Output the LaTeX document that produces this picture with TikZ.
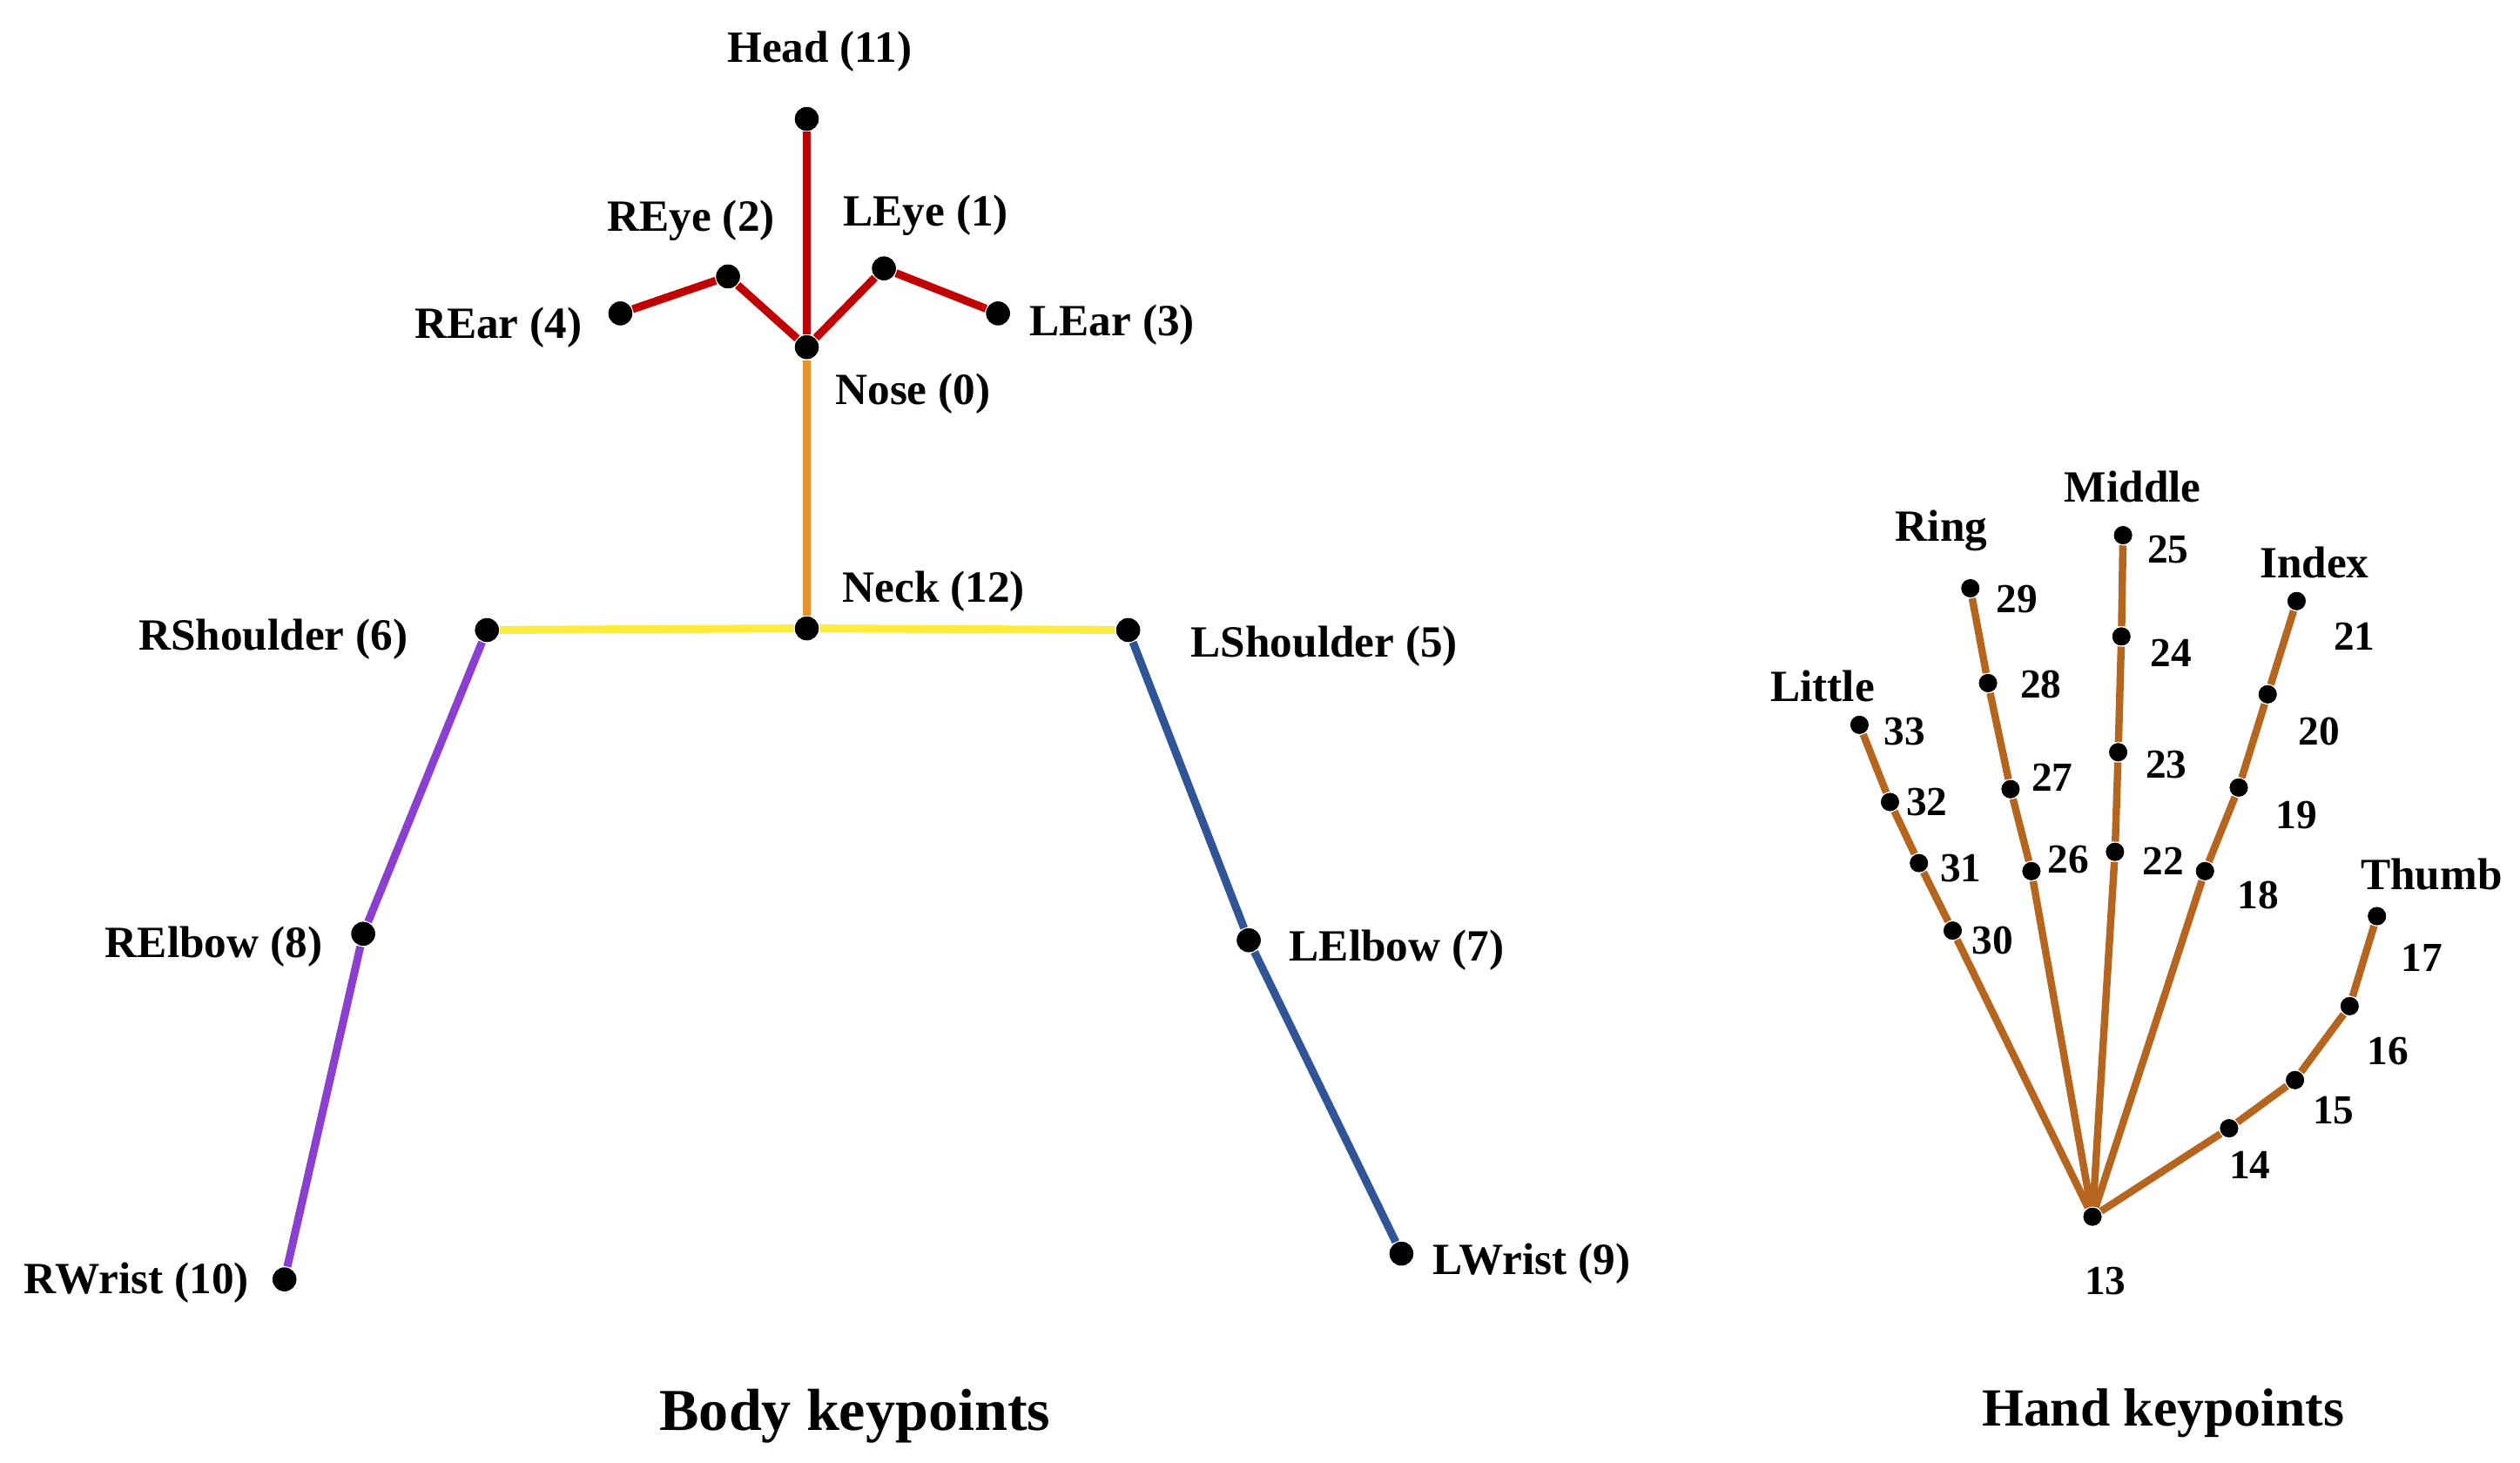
\documentclass[tikz,border=0pt]{standalone}
\usepackage{fontspec}
\setmainfont{Liberation Serif}
\usetikzlibrary{positioning}
\definecolor{cred}{HTML}{C00000}
\definecolor{corange}{HTML}{E8902A}
\definecolor{cyellow}{HTML}{FFEB3B}
\definecolor{cpurple}{HTML}{8B3FD0}
\definecolor{cblue}{HTML}{2F5597}
\definecolor{cbrown}{HTML}{B5651D}
\tikzset{
    kp/.style={circle, fill=black, inner sep=0pt, minimum size=4.2pt},
    hkp/.style={circle, fill=black, inner sep=0pt, minimum size=3.2pt},
    lbl/.style={font=\fontsize{7.9}{9}\selectfont\bfseries, inner sep=0pt},
    hlbl/.style={font=\fontsize{7.3}{9}\selectfont\bfseries, inner sep=0pt},
    bone/.style={line width=1.4pt},
    hbone/.style={line width=1.3pt, draw=cbrown}
}
\begin{document}
\begin{tikzpicture}[x=0.01cm, y=-0.01cm]
	\useasboundingbox (0,0) rectangle (1568,910);
	
	% body keypoints
	\node[kp] (head) at (502,74) {};
	\node[kp] (nose) at (502,216) {};
	\node[kp] (reye) at (453,172) {};
	\node[kp] (leye) at (550,167) {};
	\node[kp] (rear) at (386,195) {};
	\node[kp] (lear) at (621,195) {};
	\node[kp] (neck) at (502,391) {};
	\node[kp] (rsho) at (303,392) {};
	\node[kp] (lsho) at (702,392) {};
	\node[kp] (relb) at (226,581) {};
	\node[kp] (lelb) at (777,585) {};
	\node[kp] (rwri) at (177,796) {};
	\node[kp] (lwri) at (872,780) {};
	
	\draw[bone, cred] (head) -- (nose);
	\draw[bone, cred] (nose) -- (reye) -- (rear);
	\draw[bone, cred] (nose) -- (leye) -- (lear);
	\draw[bone, corange] (nose) -- (neck);
	\draw[bone, cyellow] (rsho) -- (neck) -- (lsho);
	\draw[bone, cpurple] (rsho) -- (relb) -- (rwri);
	\draw[bone, cblue] (lsho) -- (lelb) -- (lwri);
	\foreach \k in {head,nose,reye,leye,rear,lear,neck,rsho,lsho,relb,lelb,rwri,lwri}
		\node[kp] at (\k) {};
	
	\node[lbl] at (510,32) {Head (11)};
	\node[lbl] at (430,137) {REye (2)};
	\node[lbl] at (576,134) {LEye (1)};
	\node[lbl] at (310,204) {REar (4)};
	\node[lbl] at (692,202) {LEar (3)};
	\node[lbl] at (568,245) {Nose (0)};
	\node[lbl] at (581,368) {Neck (12)};
	\node[lbl] at (170,398) {RShoulder (6)};
	\node[lbl] at (824,402) {LShoulder (5)};
	\node[lbl] at (133,589) {RElbow (8)};
	\node[lbl] at (869,591) {LElbow (7)};
	\node[lbl] at (85,798) {RWrist (10)};
	\node[lbl] at (953,786) {LWrist (9)};
	\node[font=\fontsize{10.5}{12}\selectfont\bfseries] at (532,881) {Body keypoints};
	
	% hand keypoints
	\node[hkp] (h13) at (1302,757) {};
	\foreach \n/\x/\y in {14/1387/702, 15/1428/672, 16/1462/626, 17/1479/570,
		18/1372/542, 19/1393/490, 20/1411/432, 21/1429/374,
		22/1316/530, 23/1318/468, 24/1320/396, 25/1321/333,
		26/1264/542, 27/1251/491, 28/1237/425, 29/1226/366,
		30/1215/579, 31/1194/537, 32/1176/499, 33/1157/451}
		\node[hkp] (h\n) at (\x,\y) {};
	
	\foreach \a/\b/\c/\d in {14/15/16/17, 18/19/20/21, 22/23/24/25, 26/27/28/29, 30/31/32/33}
		\draw[hbone] (h13) -- (h\a) -- (h\b) -- (h\c) -- (h\d);
	\foreach \n in {13,...,33}
		\node[hkp] at (h\n) {};
	
	\foreach \n/\x/\y in {13/1310/797, 14/1400/725, 15/1452/691, 16/1486/654, 17/1507/596,
		18/1405/557, 19/1429/507, 20/1443/455, 21/1465/396,
		22/1346/536, 23/1348/476, 24/1351/406, 25/1349/342,
		26/1287/535, 27/1277/484, 28/1270/426, 29/1255/373,
		30/1240/585, 31/1220/540, 32/1199/499, 33/1185/455}
		\node[hlbl] at (\x,\y) {\n};
	
	\node[lbl] at (1513,544) {Thumb};
	\node[lbl] at (1440,350) {Index};
	\node[lbl] at (1327,303) {Middle};
	\node[lbl] at (1208,330) {Ring};
	\node[lbl] at (1134,427) {Little};
	\node[font=\fontsize{9.5}{12}\selectfont\bfseries] at (1346,879) {Hand keypoints};
\end{tikzpicture}
\end{document}
